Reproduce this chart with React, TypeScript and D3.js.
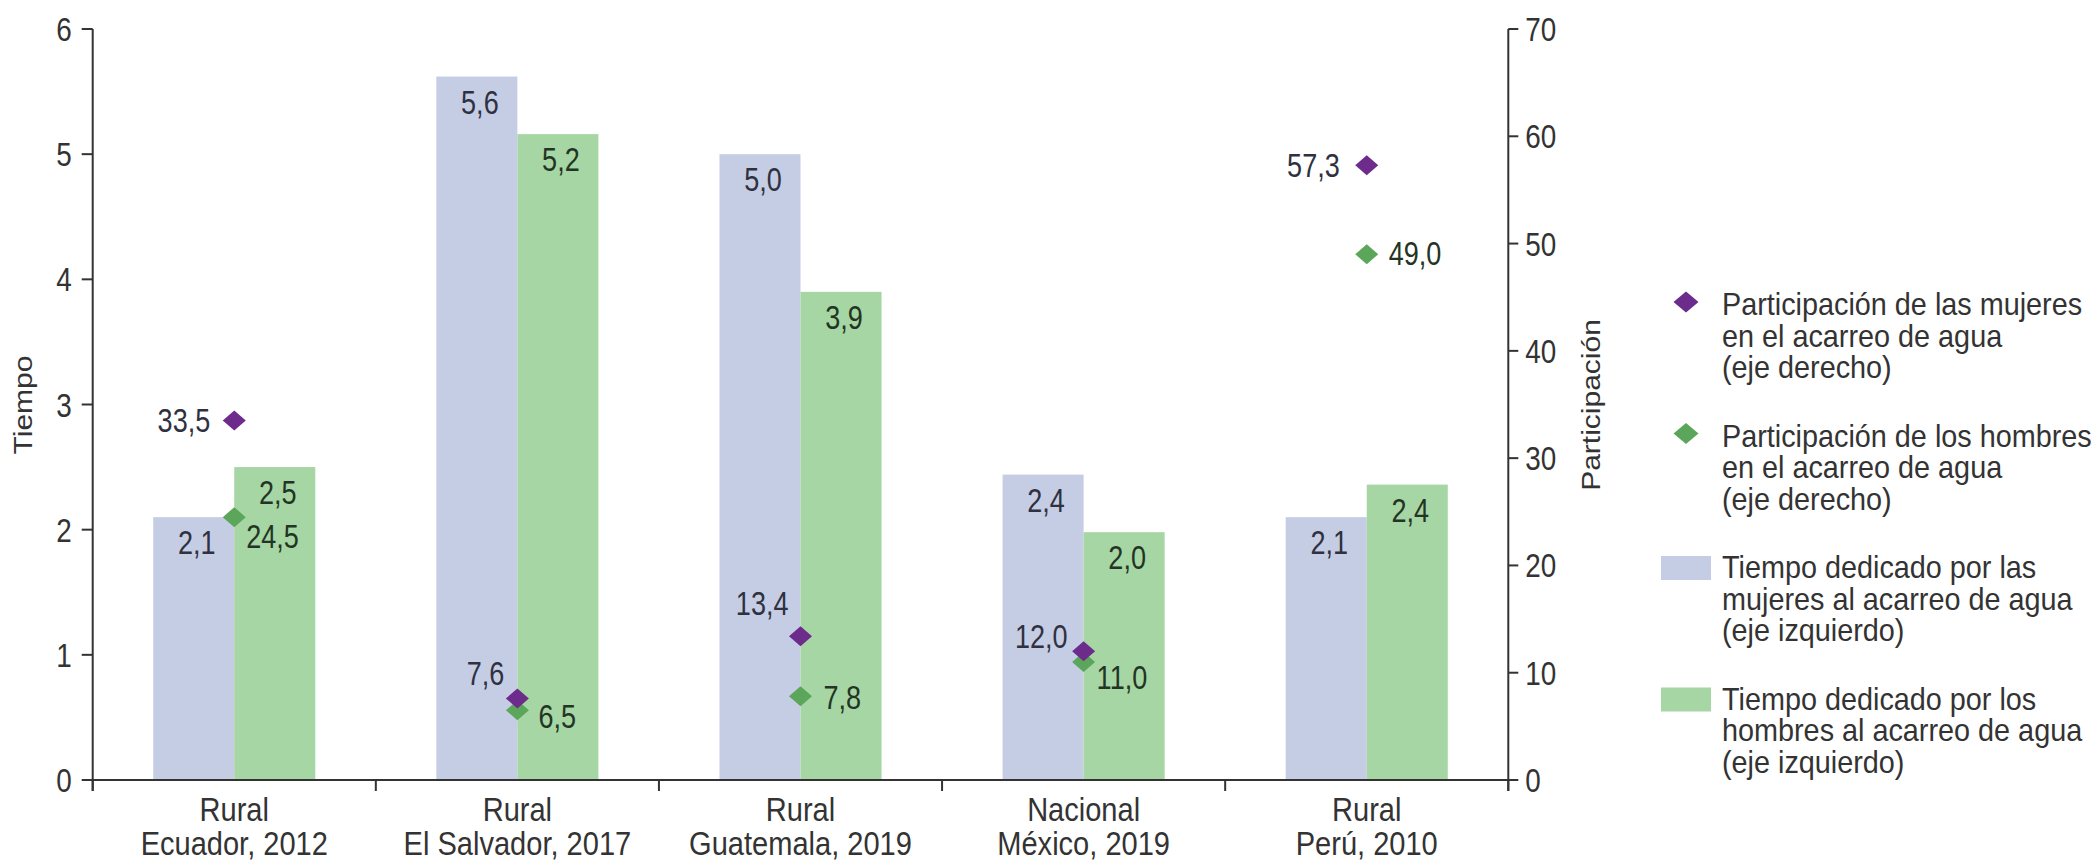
import React from "react";
import * as d3 from "d3";

const catLine1 = ["Rural", "Rural", "Rural", "Nacional", "Rural"];
const catLine2 = ["Ecuador, 2012", "El Salvador, 2017", "Guatemala, 2019", "México, 2019", "Perú, 2010"];
const categories = catLine2;

const womenTime = [2.1, 5.62, 5.0, 2.44, 2.1];
const menTime = [2.5, 5.16, 3.9, 1.98, 2.36];
const womenPart = [33.5, 7.6, 13.4, 12.0, 57.3];
const menPart = [24.5, 6.5, 7.8, 11.0, 49.0];

const leftTicks = [0, 1, 2, 3, 4, 5, 6];
const rightTicks = [0, 10, 20, 30, 40, 50, 60, 70];

const legendItems = [
  { kind: "diamond", color: "#6d2b8b", lines: ["Participación de las mujeres", "en el acarreo de agua", "(eje derecho)"] },
  { kind: "diamond", color: "#5ba65a", lines: ["Participación de los hombres", "en el acarreo de agua", "(eje derecho)"] },
  { kind: "rect", color: "#c5cde5", lines: ["Tiempo dedicado por las", "mujeres al acarreo de agua", "(eje izquierdo)"] },
  { kind: "rect", color: "#a5d6a3", lines: ["Tiempo dedicado por los", "hombres al acarreo de agua", "(eje izquierdo)"] },
];

// label placement offsets (style only)
const womenLabelOffset = [[-24, 11.5], [-13, -13.5], [-12, -21], [-16, -3], [-27, 12]];
const menLabelOffset = [[12, 31], [21, 18], [23, 13], [13, 27], [22, 11]];

const FONT = "Liberation Sans, Arial, sans-serif";
const NARROW = 0.82;
const TEXT = "#333333";
const AXIS = "#333333";
const WOMEN_BAR = "#c5cde5";
const MEN_BAR = "#a5d6a3";
const PURPLE = "#6d2b8b";
const GREEN = "#5ba65a";

const X0 = 92.7, X1 = 1508.3, YTOP = 29, YBOT = 780;

const fmt = d3.formatLocale({ decimal: ",", thousands: ".", grouping: [3], currency: ["", ""] }).format(".1f");

function diamond(cx: number, cy: number, w: number, h: number) {
  return `M${cx},${cy - h / 2}L${cx + w / 2},${cy}L${cx},${cy + h / 2}L${cx - w / 2},${cy}Z`;
}

function NText(props: { x: number; y: number; size: number; anchor?: string; fill?: string; sx?: number; children: any }) {
  const sx = props.sx ?? NARROW;
  return (
    <text
      transform={`translate(${props.x},${props.y}) scale(${sx},1)`}
      textAnchor={props.anchor ?? "start"}
      fontFamily={FONT}
      fontSize={props.size}
      fill={props.fill ?? TEXT}
    >
      {props.children}
    </text>
  );
}

export default function App() {
  const x = d3.scaleBand().domain(categories).range([X0, X1]).padding(0);
  const xs = d3.scaleBand().domain(["w", "m"]).range([0, x.bandwidth()]).paddingInner(0).paddingOuter(0.747);
  const yL = d3.scaleLinear().domain([0, 6]).range([YBOT, YTOP]);
  const yR = d3.scaleLinear().domain([0, 70]).range([YBOT, YTOP]);
  const bw = xs.bandwidth();

  const boundaries = [...categories.map((c) => x(c) as number), X1];

  return (
    <svg width={2100} height={862} style={{ position: "absolute", left: 0, top: 0, background: "#fff" }}>
      {/* bars */}
      {categories.map((c, i) => {
        const xw = (x(c) as number) + (xs("w") as number);
        const xm = (x(c) as number) + (xs("m") as number);
        return (
          <g key={"b" + i}>
            <rect x={xw} y={yL(womenTime[i])} width={bw} height={YBOT - yL(womenTime[i])} fill={WOMEN_BAR} />
            <rect x={xm} y={yL(menTime[i])} width={bw} height={YBOT - yL(menTime[i])} fill={MEN_BAR} />
            <NText x={xw + bw / 2 + 3} y={yL(womenTime[i]) + 37} anchor="middle" size={33} fill="#2f3140">
              {fmt(womenTime[i])}
            </NText>
            <NText x={xm + bw / 2 + 3} y={yL(menTime[i]) + 37} anchor="middle" size={33} fill="#243424">
              {fmt(menTime[i])}
            </NText>
          </g>
        );
      })}

      {/* axes */}
      <line x1={X0} x2={X1} y1={YBOT} y2={YBOT} stroke={AXIS} strokeWidth={2} />
      <line x1={X0} x2={X0} y1={YTOP} y2={YBOT + 11} stroke={AXIS} strokeWidth={2} />
      <line x1={X1} x2={X1} y1={YTOP} y2={YBOT + 11} stroke={AXIS} strokeWidth={2} />
      {boundaries.map((b, i) => (
        <line key={"xt" + i} x1={b} x2={b} y1={YBOT} y2={YBOT + 11} stroke={AXIS} strokeWidth={2} />
      ))}
      {leftTicks.map((t) => (
        <g key={"lt" + t}>
          <line x1={X0 - 11} x2={X0} y1={yL(t)} y2={yL(t)} stroke={AXIS} strokeWidth={2} />
          <NText x={X0 - 21} y={yL(t) + 12} anchor="end" size={34}>{t}</NText>
        </g>
      ))}
      {rightTicks.map((t) => (
        <g key={"rt" + t}>
          <line x1={X1} x2={X1 + 10} y1={yR(t)} y2={yR(t)} stroke={AXIS} strokeWidth={2} />
          <NText x={X1 + 17} y={yR(t) + 12} anchor="start" size={34}>{t}</NText>
        </g>
      ))}

      {/* category labels */}
      {categories.map((c, i) => {
        const cx = (x(c) as number) + x.bandwidth() / 2;
        return (
          <g key={"cl" + i}>
            <NText x={cx} y={821} anchor="middle" size={33} sx={0.88}>{catLine1[i]}</NText>
            <NText x={cx} y={855} anchor="middle" size={33} sx={0.88}>{catLine2[i]}</NText>
          </g>
        );
      })}

      {/* axis titles */}
      <text transform={`translate(32,405) rotate(-90) scale(1,0.85)`} textAnchor="middle" fontFamily={FONT} fontSize={30} fill={TEXT}>Tiempo</text>
      <text transform={`translate(1600,405) rotate(-90) scale(1,0.85)`} textAnchor="middle" fontFamily={FONT} fontSize={30} fill={TEXT}>Participación</text>

      {/* diamonds */}
      {categories.map((c, i) => {
        const cx = (x(c) as number) + x.bandwidth() / 2;
        const wy = yR(womenPart[i]);
        const my = yR(menPart[i]);
        return (
          <g key={"d" + i}>
            <path d={diamond(cx, my, 23, 20)} fill={GREEN} />
            <path d={diamond(cx, wy, 23, 20)} fill={PURPLE} />
            <NText x={cx + womenLabelOffset[i][0]} y={wy + womenLabelOffset[i][1]} anchor="end" size={33} fill="#2f3140">
              {fmt(womenPart[i])}
            </NText>
            <NText x={cx + menLabelOffset[i][0]} y={my + menLabelOffset[i][1]} anchor="start" size={33} fill="#243424">
              {fmt(menPart[i])}
            </NText>
          </g>
        );
      })}

      {/* legend */}
      {legendItems.map((it, i) => {
        const base = 315 + i * 131.5;
        return (
          <g key={"lg" + i}>
            {it.kind === "diamond" ? (
              <path d={diamond(1686, base - 13, 25, 21)} fill={it.color} />
            ) : (
              <rect x={1661} y={base - 22} width={50} height={24} fill={it.color} />
            )}
            {it.lines.map((ln, j) => (
              <NText key={j} x={1722} y={base + j * 31.5} size={32} sx={0.9}>{ln}</NText>
            ))}
          </g>
        );
      })}
    </svg>
  );
}
